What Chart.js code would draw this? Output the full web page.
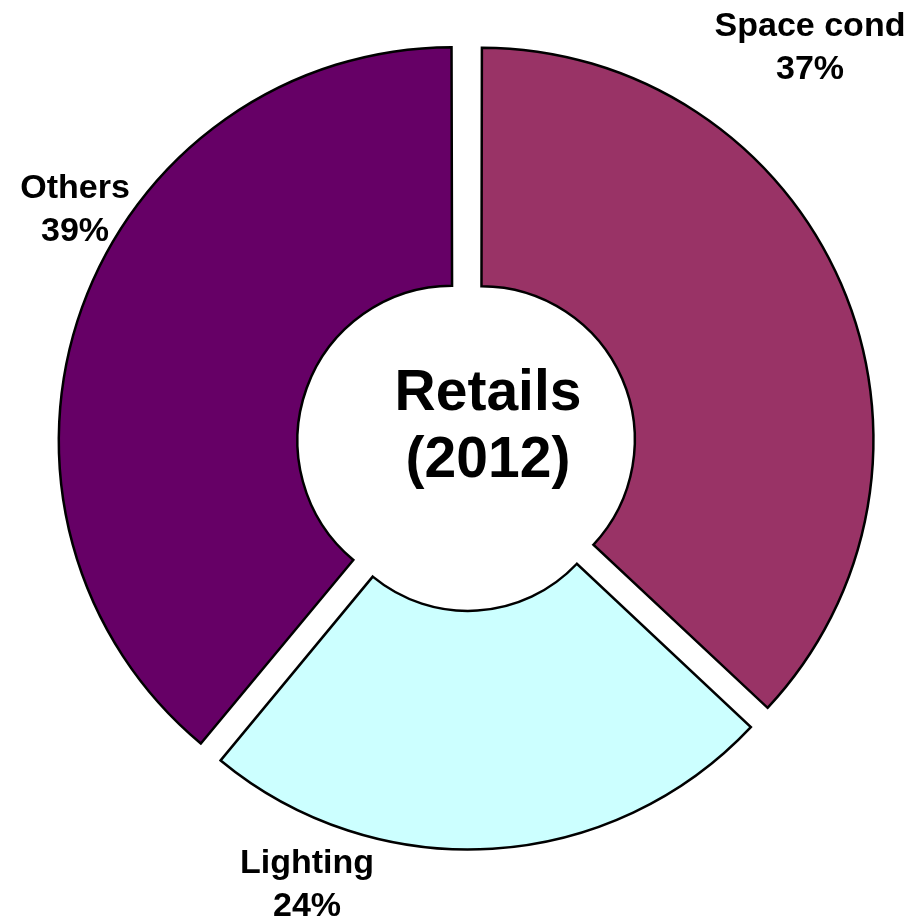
<!DOCTYPE html>
<html>
<head>
<meta charset="utf-8">
<title>Retails (2012)</title>
<script src="https://cdn.jsdelivr.net/npm/chart.js@4.4.1/dist/chart.umd.min.js"></script>
<style>
html,body{margin:0;padding:0;background:#fff;}
#wrap{width:912px;height:918px;}
</style>
</head>
<body>
<div id="wrap"><canvas id="shareChart" width="912" height="918"></canvas></div>
<script>

const categories = ["Space cond","Lighting","Others"];

const shares = [37,24,39];

const sliceColors = ["#993366","#CCFFFF","#660066"];

const centerLines = ["Retails","(2012)"];

// where each label block sits, measured from the ring centre
const labelOffsets = [
{dx:343,dy:-410},
{dx:-160,dy:427},
{dx:-392,dy:-248}
];

const labelFont = 'bold 34px "Liberation Sans", Arial, sans-serif';
const centerFont = 'bold 57px "Liberation Sans", Arial, sans-serif';

const sliceLabels = {
id:"sliceLabels",
afterDatasetsDraw(chart){
const ctx = chart.ctx;
const meta = chart.getDatasetMeta(0);
const first = meta.data[0];
if(!first) return;
const {x:cx,y:cy} = first.getProps(["x","y"],true);

ctx.save();
ctx.fillStyle = "#000";
ctx.textAlign = "center";
ctx.textBaseline = "alphabetic";

ctx.font = labelFont;
meta.data.forEach((arc,i)=>{
const {x,y} = arc.getProps(["x","y"],true);
const off = labelOffsets[i];
ctx.fillText(categories[i], x+off.dx, y+off.dy);
ctx.fillText(shares[i]+"%", x+off.dx, y+off.dy+43);
});

// title in the hole
ctx.font = centerFont;
ctx.fillText(centerLines[0], cx+21, cy-36);
ctx.fillText(centerLines[1], cx+21, cy+31);

ctx.restore();
}
};

new Chart(document.getElementById("shareChart"),{
type:"doughnut",
data:{
labels:categories,
datasets:[{
data:shares,
backgroundColor:sliceColors,
borderColor:"#000",
borderWidth:2.5,
borderJoinStyle:"miter",
offset:62,
hoverOffset:0
}]
},
options:{
responsive:false,
animation:false,
events:[],
radius:388,
cutout:"38.5%",
layout:{
padding:{left:22,right:0,top:0,bottom:26}
},
plugins:{
legend:{display:false},
title:{display:false},
tooltip:{enabled:false}
}
},
plugins:[sliceLabels]
});

</script>
</body>
</html>
